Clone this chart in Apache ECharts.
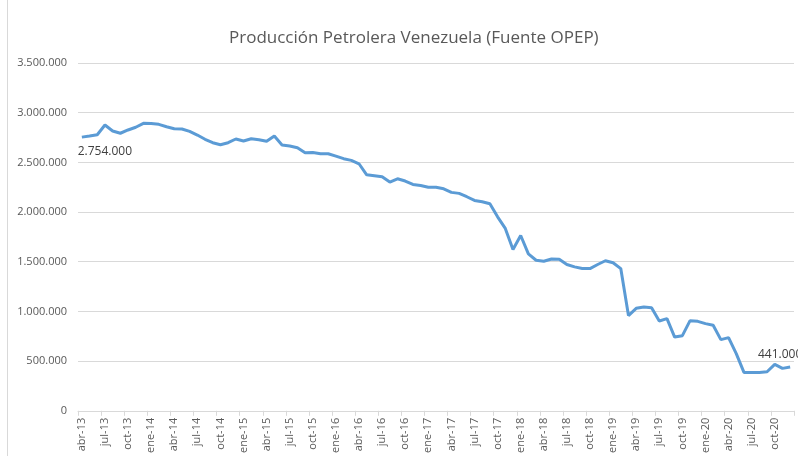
<!DOCTYPE html>
<html>
<head>
<meta charset="utf-8">
<title>Producción Petrolera Venezuela</title>
<script src="https://cdn.jsdelivr.net/npm/echarts@6/dist/echarts.min.js"></script>
<style>
  html, body { margin: 0; padding: 0; background: #fff; }
  #mychart { width: 798px; height: 456px; }
</style>
</head>
<body>
<div id="mychart"></div>
<script>
// meses abr-13 .. dic-20
const meses = [
  'abr-13', 'may-13', 'jun-13', 'jul-13', 'ago-13', 'sep-13', 'oct-13', 'nov-13', 'dic-13',
  'ene-14', 'feb-14', 'mar-14', 'abr-14', 'may-14', 'jun-14', 'jul-14', 'ago-14', 'sep-14', 'oct-14', 'nov-14', 'dic-14',
  'ene-15', 'feb-15', 'mar-15', 'abr-15', 'may-15', 'jun-15', 'jul-15', 'ago-15', 'sep-15', 'oct-15', 'nov-15', 'dic-15',
  'ene-16', 'feb-16', 'mar-16', 'abr-16', 'may-16', 'jun-16', 'jul-16', 'ago-16', 'sep-16', 'oct-16', 'nov-16', 'dic-16',
  'ene-17', 'feb-17', 'mar-17', 'abr-17', 'may-17', 'jun-17', 'jul-17', 'ago-17', 'sep-17', 'oct-17', 'nov-17', 'dic-17',
  'ene-18', 'feb-18', 'mar-18', 'abr-18', 'may-18', 'jun-18', 'jul-18', 'ago-18', 'sep-18', 'oct-18', 'nov-18', 'dic-18',
  'ene-19', 'feb-19', 'mar-19', 'abr-19', 'may-19', 'jun-19', 'jul-19', 'ago-19', 'sep-19', 'oct-19', 'nov-19', 'dic-19',
  'ene-20', 'feb-20', 'mar-20', 'abr-20', 'may-20', 'jun-20', 'jul-20', 'ago-20', 'sep-20', 'oct-20', 'nov-20', 'dic-20'
];

// barriles diarios (Fuente OPEP)
const produccion = [
  2754000, 2765000, 2778000, 2876000, 2816000, 2793000, 2826000, 2853000, 2893000,
  2890000, 2883000, 2859000, 2839000, 2836000, 2812000, 2775000, 2732000, 2698000, 2678000, 2698000, 2735000,
  2715000, 2738000, 2728000, 2712000, 2765000, 2675000, 2665000, 2648000, 2597000, 2600000, 2587000, 2587000,
  2563000, 2537000, 2520000, 2486000, 2375000, 2365000, 2355000, 2302000, 2335000, 2312000, 2278000, 2268000,
  2250000, 2250000, 2234000, 2198000, 2188000, 2154000, 2117000, 2103000, 2083000, 1952000, 1835000, 1623000,
  1764000, 1579000, 1515000, 1505000, 1528000, 1525000, 1472000, 1448000, 1431000, 1431000, 1472000, 1510000,
  1490000, 1431000, 958000, 1031000, 1045000, 1038000, 904000, 928000, 742000, 756000, 907000, 900000,
  877000, 860000, 716000, 736000, 575000, 386000, 386000, 386000, 393000, 467000, 427000, 441000
];

const fuente = '"Open Sans", "Liberation Sans", sans-serif';

function puntos (v) {
  return String(v).replace(/\B(?=(\d{3})+(?!\d))/g, '.');
}

// solo el primer y el ultimo punto llevan etiqueta
const ultimo = produccion.length - 1;
const datos = produccion.map((v, i) => {
  if (i === 0) {
    return { value: v, label: { show: true, position: 'bottom', offset: [23, 3] } };
  }
  if (i === ultimo) {
    return { value: v, label: { show: true, position: 'top', offset: [-10, -1] } };
  }
  return v;
});

const option = {
  backgroundColor: '#ffffff',
  animation: false,
  title: {
    text: 'Producción Petrolera Venezuela (Fuente OPEP)',
    left: 224,
    top: 25,
    textStyle: {
      fontFamily: fuente,
      fontSize: 17,
      fontWeight: 'normal',
      color: '#595959'
    }
  },
  grid: {
    left: 78,
    right: 4,
    top: 63,
    bottom: 45
  },
  xAxis: {
    type: 'category',
    data: meses,
    boundaryGap: true,
    axisLine: { lineStyle: { color: '#d9d9d9', width: 1 } },
    axisTick: {
      show: true,
      interval: 2,
      length: 5,
      lineStyle: { color: '#d9d9d9' }
    },
    axisLabel: {
      interval: 2,
      rotate: 90,
      margin: 7,
      fontFamily: fuente,
      fontSize: 11,
      color: '#595959'
    }
  },
  yAxis: {
    type: 'value',
    min: 0,
    max: 3500000,
    interval: 500000,
    axisLine: { show: false },
    axisTick: { show: false },
    splitLine: { lineStyle: { color: '#d9d9d9', width: 1 } },
    axisLabel: {
      margin: 11,
      fontFamily: fuente,
      fontSize: 11,
      color: '#595959',
      formatter: puntos
    }
  },
  series: [
    {
      name: 'Producción',
      type: 'line',
      data: datos,
      symbol: 'circle',
      symbolSize: 0,
      showSymbol: true,
      showAllSymbol: true,
      lineStyle: { color: '#5b9bd5', width: 3 },
      itemStyle: { color: '#5b9bd5' },
      label: {
        show: false,
        fontFamily: fuente,
        fontSize: 12,
        color: '#404040',
        formatter: (p) => puntos(p.value)
      }
    }
  ],
  graphic: [
    {
      type: 'line',
      shape: { x1: 7.5, y1: 0, x2: 7.5, y2: 456 },
      style: { stroke: '#d9d9d9', lineWidth: 1 }
    }
  ]
};

const myChart = echarts.init(document.getElementById('mychart'));
myChart.setOption(option);
window.addEventListener('resize', () => {
  myChart.resize();
});
</script>
</body>
</html>
